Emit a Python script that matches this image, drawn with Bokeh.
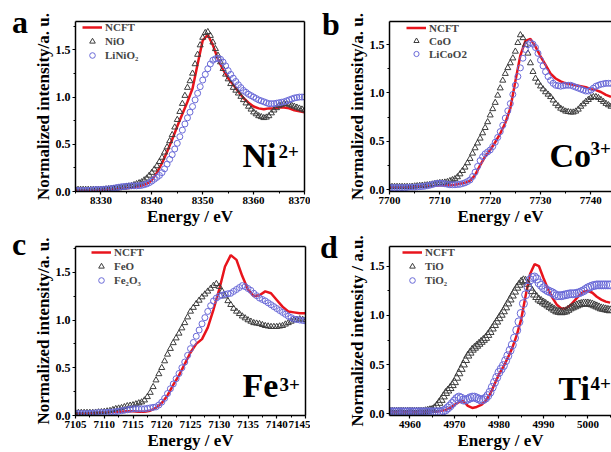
from bokeh.plotting import figure
from bokeh.models import (Label, SingleIntervalTicker, NumeralTickFormatter,
                          LinearAxis, FixedTicker, Div)
from bokeh.layouts import row, column
from bokeh.embed import file_html
from bokeh.resources import INLINE

# ======================= data =======================
# ---- Panel a: Ni K-edge ----
E_a = list(range(8325, 8371))                      # red line, 1 eV
Em_a = [8325 + 0.5 * i for i in range(91)]         # reference markers, 0.5 eV
ncft_a = [0.01, 0.01, 0.01, 0.01, 0.01, 0.015, 0.02, 0.02, 0.025, 0.03, 0.035, 0.04,
          0.05, 0.06, 0.08, 0.12, 0.20, 0.30, 0.42, 0.55, 0.69, 0.82, 0.95, 1.09, 1.35,
          1.60, 1.66, 1.55, 1.40, 1.29, 1.20, 1.13, 1.06, 0.99, 0.94, 0.90, 0.88, 0.87,
          0.88, 0.88, 0.89, 0.89, 0.88, 0.86, 0.85, 0.84]
nio_a = [0.02, 0.02, 0.02, 0.02, 0.02, 0.02, 0.02, 0.02, 0.02, 0.02,
         0.02, 0.022, 0.025, 0.027, 0.03, 0.032, 0.035, 0.037, 0.04, 0.045,
         0.05, 0.055, 0.06, 0.07, 0.08, 0.09, 0.10, 0.12, 0.14, 0.17,
         0.20, 0.235, 0.27, 0.315, 0.36, 0.415, 0.47, 0.535, 0.60, 0.68,
         0.76, 0.845, 0.93, 1.015, 1.10, 1.17, 1.25, 1.35, 1.45, 1.55,
         1.63, 1.68, 1.69, 1.65, 1.58, 1.51, 1.44, 1.37, 1.30, 1.24,
         1.19, 1.14, 1.10, 1.07, 1.04, 1.005, 0.97, 0.935, 0.90, 0.87,
         0.84, 0.82, 0.80, 0.79, 0.78, 0.785, 0.80, 0.83, 0.86, 0.885,
         0.91, 0.92, 0.93, 0.93, 0.92, 0.91, 0.90, 0.89, 0.88, 0.87, 0.86]
linio2_a = [0.01, 0.01, 0.01, 0.01, 0.01, 0.012, 0.015, 0.017, 0.02, 0.02,
            0.02, 0.022, 0.025, 0.027, 0.03, 0.035, 0.04, 0.045, 0.05, 0.052,
            0.055, 0.058, 0.06, 0.06, 0.06, 0.062, 0.065, 0.072, 0.08, 0.093,
            0.11, 0.13, 0.15, 0.17, 0.20, 0.24, 0.29, 0.34, 0.39, 0.45,
            0.51, 0.58, 0.65, 0.715, 0.78, 0.84, 0.90, 0.97, 1.04, 1.11,
            1.18, 1.24, 1.30, 1.35, 1.39, 1.405, 1.41, 1.40, 1.37, 1.33,
            1.28, 1.24, 1.20, 1.165, 1.13, 1.10, 1.07, 1.05, 1.03, 1.015,
            1.00, 0.985, 0.97, 0.96, 0.95, 0.94, 0.93, 0.93, 0.93, 0.935,
            0.94, 0.945, 0.95, 0.96, 0.97, 0.98, 0.99, 0.995, 1.00, 1.00, 1.00]

# ---- Panel b: Co K-edge ----
E_b = list(range(7700, 7745))
Em_b = [7700 + 0.5 * i for i in range(89)]
ncft_b = [0.02, 0.02, 0.02, 0.02, 0.025, 0.025, 0.03, 0.03, 0.035, 0.04, 0.045, 0.045,
          0.045, 0.05, 0.06, 0.07, 0.09, 0.15, 0.25, 0.34, 0.41, 0.49, 0.58, 0.69, 0.84,
          1.12, 1.39, 1.54, 1.56, 1.48, 1.38, 1.29, 1.20, 1.15, 1.12, 1.10, 1.09, 1.08,
          1.07, 1.06, 1.04, 1.03, 1.01, 0.98, 0.96]
coo_b = [0.03, 0.03, 0.03, 0.03, 0.03, 0.03, 0.03, 0.03, 0.03, 0.032,
         0.035, 0.037, 0.04, 0.042, 0.045, 0.047, 0.05, 0.055, 0.06, 0.065,
         0.07, 0.072, 0.075, 0.08, 0.09, 0.10, 0.11, 0.13, 0.16, 0.195,
         0.23, 0.275, 0.32, 0.375, 0.43, 0.48, 0.53, 0.585, 0.64, 0.70,
         0.77, 0.835, 0.90, 0.975, 1.05, 1.13, 1.20, 1.26, 1.31, 1.36,
         1.43, 1.52, 1.60, 1.57, 1.50, 1.41, 1.31, 1.22, 1.15, 1.11,
         1.07, 1.04, 1.01, 0.985, 0.96, 0.925, 0.89, 0.865, 0.84, 0.825,
         0.81, 0.805, 0.80, 0.80, 0.81, 0.83, 0.86, 0.885, 0.91, 0.93,
         0.95, 0.96, 0.96, 0.95, 0.93, 0.91, 0.89, 0.875, 0.86]
licoo2_b = [0.02, 0.02, 0.02, 0.02, 0.02, 0.02, 0.02, 0.022, 0.025, 0.025,
            0.025, 0.027, 0.03, 0.032, 0.035, 0.04, 0.045, 0.052, 0.06, 0.063,
            0.065, 0.063, 0.06, 0.055, 0.05, 0.05, 0.05, 0.052, 0.055, 0.062,
            0.07, 0.083, 0.10, 0.135, 0.18, 0.24, 0.30, 0.34, 0.37, 0.39,
            0.41, 0.445, 0.49, 0.54, 0.60, 0.665, 0.74, 0.815, 0.89, 0.985,
            1.08, 1.17, 1.26, 1.36, 1.45, 1.50, 1.52, 1.505, 1.47, 1.41,
            1.34, 1.28, 1.22, 1.17, 1.13, 1.10, 1.08, 1.075, 1.07, 1.075,
            1.08, 1.08, 1.08, 1.07, 1.06, 1.05, 1.04, 1.03, 1.02, 1.02,
            1.03, 1.05, 1.07, 1.08, 1.09, 1.095, 1.10, 1.10, 1.10]

# ---- Panel c: Fe K-edge ----
E_c = list(range(7105, 7146))
Em_c = [7105 + 0.5 * i for i in range(81)]
ncft_c = [0.02, 0.02, 0.02, 0.025, 0.03, 0.03, 0.035, 0.04, 0.04, 0.045, 0.045, 0.04,
          0.04, 0.05, 0.08, 0.13, 0.21, 0.32, 0.42, 0.54, 0.66, 0.75, 0.80, 0.92, 1.11,
          1.32, 1.56, 1.68, 1.63, 1.46, 1.32, 1.25, 1.26, 1.30, 1.28, 1.21, 1.14, 1.09,
          1.08, 1.07, 1.07]
feo_c = [0.03, 0.03, 0.03, 0.03, 0.03, 0.03, 0.03, 0.032, 0.035, 0.037,
         0.04, 0.045, 0.05, 0.06, 0.07, 0.075, 0.08, 0.09, 0.10, 0.105,
         0.11, 0.12, 0.13, 0.14, 0.16, 0.195, 0.24, 0.30, 0.37, 0.435,
         0.50, 0.57, 0.64, 0.70, 0.76, 0.81, 0.86, 0.915, 0.97, 1.03,
         1.09, 1.13, 1.17, 1.205, 1.24, 1.27, 1.30, 1.33, 1.36, 1.38,
         1.35, 1.30, 1.25, 1.20, 1.16, 1.12, 1.09, 1.065, 1.04, 1.02,
         1.00, 0.985, 0.97, 0.965, 0.96, 0.95, 0.94, 0.935, 0.93, 0.93,
         0.93, 0.935, 0.94, 0.955, 0.97, 0.985, 1.00, 1.005, 1.01, 1.005, 1.00]
fe2o3_c = [0.02, 0.02, 0.02, 0.02, 0.02, 0.022, 0.025, 0.027, 0.03, 0.03,
           0.03, 0.032, 0.035, 0.037, 0.04, 0.045, 0.05, 0.055, 0.06, 0.065,
           0.07, 0.07, 0.07, 0.07, 0.07, 0.075, 0.08, 0.085, 0.09, 0.11,
           0.14, 0.18, 0.23, 0.28, 0.33, 0.385, 0.44, 0.50, 0.56, 0.63,
           0.70, 0.765, 0.83, 0.895, 0.96, 1.025, 1.09, 1.15, 1.20, 1.23,
           1.25, 1.26, 1.27, 1.275, 1.28, 1.30, 1.32, 1.34, 1.36, 1.35,
           1.33, 1.31, 1.28, 1.255, 1.23, 1.215, 1.20, 1.18, 1.16, 1.14,
           1.12, 1.10, 1.08, 1.06, 1.04, 1.025, 1.01, 1.005, 1.00, 0.995, 0.99]

# ---- Panel d: Ti K-edge ----
E_d = list(range(4955, 5006))
Em_d = [4955 + 0.5 * i for i in range(101)]
ncft_d = [0.02, 0.02, 0.02, 0.02, 0.02, 0.02, 0.02, 0.02, 0.02, 0.02, 0.02, 0.02,
          0.03, 0.04, 0.06, 0.09, 0.12, 0.13, 0.08, 0.06, 0.07, 0.09, 0.13, 0.20, 0.30,
          0.40, 0.48, 0.57, 0.67, 0.80, 0.96, 1.20, 1.42, 1.52, 1.50, 1.38, 1.27, 1.18,
          1.11, 1.07, 1.07, 1.10, 1.15, 1.20, 1.24, 1.25, 1.23, 1.19, 1.16, 1.14, 1.13]
tio_d = [0.02, 0.02, 0.02, 0.02, 0.02, 0.02, 0.02, 0.02, 0.02, 0.02,
         0.02, 0.02, 0.02, 0.02, 0.02, 0.02, 0.02, 0.025, 0.03, 0.035,
         0.04, 0.055, 0.08, 0.11, 0.14, 0.175, 0.21, 0.235, 0.26, 0.29,
         0.32, 0.365, 0.41, 0.455, 0.50, 0.545, 0.59, 0.62, 0.65, 0.67,
         0.69, 0.71, 0.73, 0.75, 0.77, 0.80, 0.83, 0.865, 0.90, 0.935,
         0.97, 1.005, 1.04, 1.08, 1.12, 1.16, 1.20, 1.24, 1.28, 1.31,
         1.34, 1.355, 1.35, 1.32, 1.28, 1.245, 1.21, 1.185, 1.16, 1.145,
         1.13, 1.115, 1.10, 1.085, 1.07, 1.055, 1.04, 1.035, 1.03, 1.035,
         1.04, 1.055, 1.07, 1.08, 1.09, 1.10, 1.11, 1.115, 1.12, 1.12,
         1.12, 1.115, 1.11, 1.10, 1.09, 1.08, 1.07, 1.065, 1.06, 1.055, 1.05]
tio2_d = [0.02, 0.02, 0.02, 0.02, 0.02, 0.02, 0.02, 0.02, 0.02, 0.02,
          0.02, 0.02, 0.02, 0.02, 0.02, 0.02, 0.02, 0.02, 0.02, 0.02,
          0.02, 0.02, 0.02, 0.02, 0.02, 0.03, 0.04, 0.06, 0.08, 0.105,
          0.13, 0.155, 0.17, 0.16, 0.14, 0.14, 0.15, 0.16, 0.17, 0.17,
          0.16, 0.15, 0.14, 0.145, 0.16, 0.185, 0.22, 0.27, 0.32, 0.37,
          0.42, 0.455, 0.49, 0.54, 0.59, 0.645, 0.70, 0.77, 0.85, 0.935,
          1.02, 1.12, 1.21, 1.29, 1.36, 1.385, 1.39, 1.37, 1.33, 1.305,
          1.28, 1.265, 1.25, 1.24, 1.23, 1.215, 1.20, 1.20, 1.20, 1.205,
          1.21, 1.215, 1.22, 1.22, 1.22, 1.225, 1.23, 1.24, 1.25, 1.265,
          1.28, 1.29, 1.30, 1.305, 1.31, 1.31, 1.31, 1.31, 1.31, 1.31, 1.31]

# ======================= style =======================
FONT = "Liberation Serif"
RED = "#e8141c"
TRI = "#3c3c3c"
CIR = "#6a6ad8"


def frame_axis(p, side):
    ax = LinearAxis(ticker=FixedTicker(ticks=[]), axis_line_width=1.5,
                    axis_line_color="black", major_tick_out=0, major_tick_in=0,
                    minor_tick_out=0, minor_tick_in=0,
                    major_label_text_font_size="0px")
    p.add_layout(ax, side)


def panel(W, H, borders, xr, yr, xint, E, Em, ys, names, ylabel, leg_xy, leg_h,
          elem, sup, elem_off, sup_off, msize, right_edge):
    l, r, t, b = borders
    p = figure(width=W, height=H, x_range=xr, y_range=yr, output_backend="svg",
               toolbar_location=None, min_border_left=l, min_border_right=r,
               min_border_top=t, min_border_bottom=b)
    p.background_fill_color = "white"
    p.border_fill_color = "white"
    p.grid.visible = False
    p.outline_line_color = None

    p.line(E, ys[0], color=RED, line_width=2.5, legend_label=names[0])
    p.scatter(Em, ys[1], marker="triangle", size=msize, fill_color=None,
              line_color=TRI, line_width=1, legend_label=names[1])
    p.scatter(Em, ys[2], marker="circle", size=msize, fill_color=None,
              line_color=CIR, line_width=1, legend_label=names[2])

    p.xaxis.ticker = SingleIntervalTicker(interval=xint, num_minor_ticks=2)
    p.yaxis.ticker = SingleIntervalTicker(interval=0.5, num_minor_ticks=2)
    p.yaxis.formatter = NumeralTickFormatter(format="0.0")
    for ax in (p.xaxis[0], p.yaxis[0]):
        ax.axis_line_width = 1.5
        ax.axis_line_color = "black"
        ax.major_tick_in = 0
        ax.major_tick_out = 3
        ax.minor_tick_in = 0
        ax.minor_tick_out = 2
        ax.major_tick_line_width = 1.2
        ax.minor_tick_line_width = 1
        ax.major_label_text_font = FONT
        ax.major_label_text_font_style = "bold"
        ax.major_label_text_color = "black"
        ax.major_label_standoff = 2
        ax.axis_label_text_font = FONT
        ax.axis_label_text_font_style = "bold"
        ax.axis_label_text_font_size = "17px"
        ax.axis_label_text_color = "black"
        ax.axis_label_standoff = 0
    p.xaxis.major_label_text_font_size = "11px"
    p.yaxis.major_label_text_font_size = "12px"
    p.yaxis.axis_label = ylabel
    p.xaxis.axis_label = "Energy / eV"

    frame_axis(p, "above")
    if right_edge:
        frame_axis(p, "right")

    lg = p.legend[0]
    lg.location = leg_xy
    lg.label_text_font = FONT
    lg.label_text_font_style = "bold"
    lg.label_text_font_size = "11px"
    lg.label_height = leg_h
    lg.glyph_height = leg_h
    lg.glyph_width = 20
    lg.label_standoff = 3
    lg.spacing = 0
    lg.padding = 0
    lg.margin = 0
    lg.border_line_alpha = 0
    lg.background_fill_alpha = 0

    def lab(dx, dy, txt, size):
        p.add_layout(Label(x=xr[0], y=yr[0], x_offset=dx, y_offset=dy, text=txt,
                           text_font=FONT, text_font_style="bold",
                           text_font_size=size, text_color="black",
                           text_align="left", text_baseline="alphabetic"))

    lab(elem_off[0], elem_off[1], elem, "34px")
    lab(sup_off[0], sup_off[1], sup, "19px")
    return p


def letter(ch, w, h, left, top):
    html = ('<div style="position:relative; left:%dpx; top:%dpx; '
            'font-family:\'Liberation Serif\'; font-weight:bold; font-size:32px; '
            'line-height:32px; color:black;">%s</div>' % (left, top, ch))
    return Div(text=html, width=w, height=h, margin=0)


YL = "Normalized intensity/a. u."

pa = panel(280, 228, (43, 6, 21, 36), (8325, 8370), (0, 1.8), 10, E_a, Em_a,
           [ncft_a, nio_a, linio2_a], ["NCFT", "NiO", "LiNiO\u2082"], YL,
           (7, 129), 14, "Ni", "2+", (167, 36), (203, 40), 6, True)
pb = panel(267, 228, (40, 0, 21, 37), (7700, 7744.1), (-0.02, 1.74), 10, E_b, Em_b,
           [ncft_b, coo_b, licoo2_b], ["NCFT", "CoO", "LiCoO2"], YL,
           (17, 131), 13, "Co", "3+", (160, 36), (201, 43), 6, False)
pc = panel(280, 224, (43, 5, 18, 35), (7105, 7145), (0, 1.77), 5, E_c, Em_c,
           [ncft_c, feo_c, fe2o3_c], ["NCFT", "FeO", "Fe\u2082O\u2083"], YL,
           (16, 128), 14, "Fe", "3+", (167, 30), (204, 31), 6, True)
pd_ = panel(267, 224, (40, 0, 14, 36), (4955.4, 5005.3), (-0.017, 1.70), 10, E_d, Em_d,
            [ncft_d, tio_d, tio2_d], ["NCFT", "TiO", "TiO\u2082"],
            "Normalized intensity / a.u.",
            (13, 128), 14, "Ti", "4+", (169, 27), (201, 32), 8, False)

layout = column(
    row(letter("a", 30, 228, 12, 6), pa, letter("b", 34, 228, 12, 8), pb),
    row(letter("c", 30, 224, 12, 0), pc, letter("d", 34, 224, 10, 3), pd_),
)
open("out.html", "w").write(file_html(layout, INLINE))
